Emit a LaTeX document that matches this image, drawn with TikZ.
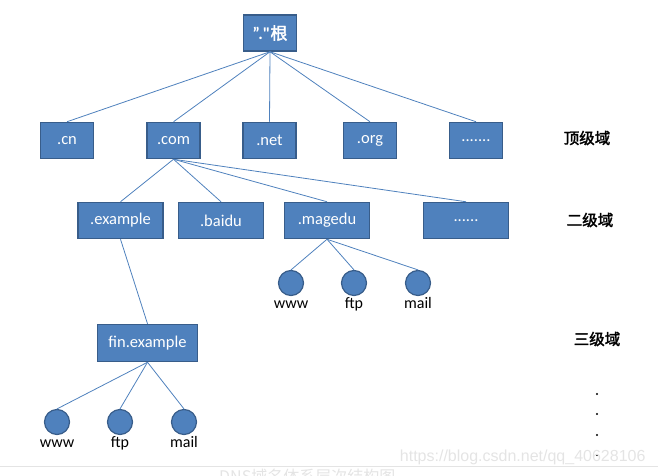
\documentclass[tikz,border=0pt]{standalone}
\usepackage{fontspec}
\setmainfont{Carlito}
\newfontfamily\cjk[AutoFakeBold=2]{Noto Sans CJK SC}
\newfontfamily\wmfont{Liberation Sans}
\usetikzlibrary{positioning}
\definecolor{boxblue}{HTML}{4F81BD}
\definecolor{boxline}{HTML}{385D8A}
\definecolor{wmark}{HTML}{E4E4E4}

\tikzset{
  dom/.style={draw=boxline, fill=boxblue, line width=1.5pt, text=white,
    minimum width=53pt, minimum height=36pt, inner sep=2pt,
    font=\fontsize{16.5}{19}\selectfont},
  sld/.style={dom, minimum width=85pt},
  host/.style={circle, draw=boxline, fill=boxblue, line width=1.2pt,
    minimum size=25pt, inner sep=0pt},
  hostlbl/.style={inner sep=0pt, text height=12pt, text depth=3pt,
    font=\fontsize{16}{19}\selectfont},
  link/.style={draw=boxblue, line width=0.8pt},
  level/.style={font=\cjk\bfseries\fontsize{15.5}{18}\selectfont},
}

\begin{document}
\begin{tikzpicture}
  [x=1pt, y=1pt, on grid, node distance=100pt]
  \useasboundingbox (0,0) rectangle (658,-476);
  % root
  \node[dom, font=\bfseries\fontsize{17}{20}\selectfont] (root) at (270,-33) {".\textquotedbl{}\cjk 根};
  % top level
  \node[dom] (com) at (173.5,-140.5) {.com};
  \node[dom] (cn) [left=106.5pt of com] {.cn};
  \node[dom] (net) [right=96pt of com] {.net};
  \node[dom] (org) [right=100.5pt of net] {.org};
  \node[dom] (tdots) [right=106pt of org] {.......};
  % second level
  \node[sld] (example) at (120.5,-220.5) {.example};
  \node[sld] (baidu) [right=100.5pt of example] {.baidu};
  \node[sld] (magedu) [right=106pt of baidu] {.magedu};
  \node[sld] (sdots) [right=139pt of magedu] {......};
  % third level
  \node[dom, minimum width=100pt, minimum height=37pt] (fin) at (147.5,-343) {fin.example};
  % hosts
  \node[host, label={[hostlbl]below:www}] (mwww) at (291,-283) {};
  \node[host, label={[hostlbl]below:ftp}] (mftp) [right=63pt of mwww] {};
  \node[host, label={[hostlbl]below:mail}] (mmail) [right=64pt of mftp] {};
  \node[host, label={[hostlbl]below:www}] (fwww) at (57,-422) {};
  \node[host, label={[hostlbl]below:ftp}] (fftp) [right=63pt of fwww] {};
  \node[host, label={[hostlbl]below:mail}] (fmail) [right=64pt of fftp] {};
  % links
  \path[link]
  (root.south) edge (cn.north)
               edge (com.north)
               edge (net.north)
               edge (org.north)
               edge (tdots.north)
  (com.south) edge (example.north)
              edge (baidu.north)
              edge (magedu.north)
              edge (sdots.north)
  (example.south) edge (fin.north)
  (magedu.south) edge (mwww.north)
                 edge (mftp.north)
                 edge (mmail.north)
  (fin.south) edge (fwww.north)
              edge (fftp.north)
              edge (fmail.north);
  % levels
  \node[level] (top) at (587,-138) {顶级域};
  \node[level] (second) at (590,-220) {二级域};
  \node[level] (third) at (597,-339) {三级域};
  \foreach \y in {394,414,435,455}
    \fill (597,-\y) circle (1.1pt);
  % watermark
  \node[text=wmark, font=\wmfont\fontsize{16}{19}\selectfont, anchor=east] (wm) at (649,-457) {https://blog.csdn.net/qq\_40628106};
  \draw[wmark, line width=1pt] (0,-466) -- (658,-466);
  \node[text=wmark, font=\cjk\fontsize{16}{19}\selectfont, anchor=north west, inner sep=0pt] (caption) at (219,-469) {DNS域名体系层次结构图};
\end{tikzpicture}
\end{document}
